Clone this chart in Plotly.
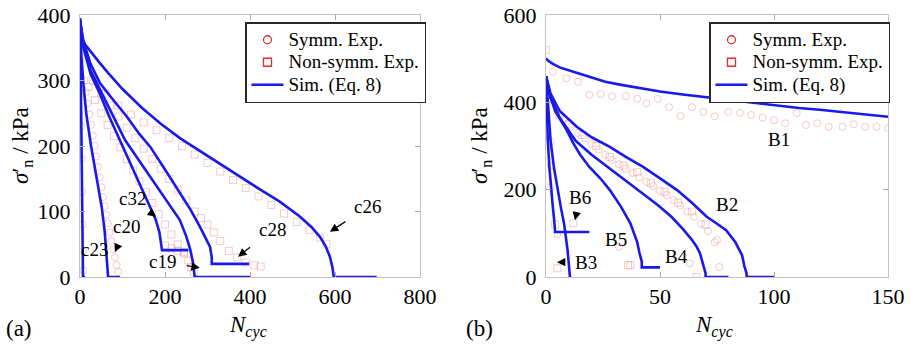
import plotly.graph_objects as go

# ---------------- Panel (a) simulated curves ----------------
c23_N = [0, 1, 2, 3, 4, 5, 6, 7, 7, 12]
c23_s = [395, 360, 300, 240, 180, 120, 60, 15, 0, 0]
c20_N = [0, 3, 8, 15, 26, 38, 51, 58, 63, 65, 66, 94]
c20_s = [392, 340, 295, 248, 200, 155, 107, 70, 35, 10, 0, 0]
c32_N = [0, 8, 25, 45, 70, 94, 120, 146, 165, 178, 187, 192, 193, 193, 255]
c32_s = [392, 350, 310, 282, 243, 208, 170, 133, 107, 88, 68, 50, 41, 41, 41]
c19_N = [0, 8, 25, 50, 78, 106, 122, 141, 165, 188, 212, 235, 250, 259, 265, 269, 270, 400]
c19_s = [392, 355, 315, 282, 245, 209, 194, 176, 155, 132, 110, 87, 62, 43, 25, 8, 0, 0]
c28_N = [0, 8, 25, 47, 75, 110, 140, 165, 200, 235, 260, 282, 296, 306, 310, 310, 398]
c28_s = [392, 360, 325, 296, 273, 245, 218, 199, 164, 128, 103, 77, 60, 46, 30, 20, 20]
c26_N = [0, 4, 12, 27, 45, 67, 100, 146, 190, 235, 266, 300, 340, 380, 430, 470, 494, 518, 545, 565, 578, 588, 594, 597, 597, 698]
c26_s = [395, 366, 355, 342, 328, 311, 287, 258, 234, 212, 199, 185, 168, 151, 131, 115, 104, 92, 76, 61, 47, 31, 15, 3, 0, 0]

# ---------------- Panel (a) experimental points ----------------
a_circ_N = [1, 2, 3, 4, 5, 6, 7, 8,
            10, 14, 18, 22, 26, 30, 34, 38, 42, 46, 50, 54, 58, 62, 66, 70, 74, 78, 82, 86, 90]
a_circ_s = [330, 280, 230, 180, 130, 80, 40, 10,
            300, 282, 265, 248, 232, 216, 200, 184, 168, 152, 137, 122, 108, 95, 82, 68, 55, 42, 30, 18, 8]
a_sq_N = [20, 35, 50, 65, 80, 95, 110, 125, 140, 155, 170, 185, 200, 215, 230, 245, 255, 262, 268,
          200, 215, 230, 245,
          30, 50, 70, 90, 110, 130, 150, 170, 190, 210, 230, 250, 270, 285, 300, 315, 330, 350, 370, 390, 410, 425,
          60, 90, 120, 150, 180, 210, 240, 270, 300, 330, 360, 390, 420, 450, 480, 510, 540, 565, 580]
a_sq_s = [290, 270, 250, 232, 215, 198, 180, 163, 146, 130, 113, 96, 80, 65, 50, 38, 25, 15, 8,
          48, 44, 40, 36,
          300, 280, 262, 245, 228, 212, 196, 180, 165, 150, 133, 117, 100, 90, 80, 68, 55, 40, 30, 22, 18, 16,
          280, 262, 248, 236, 224, 212, 200, 187, 174, 161, 148, 136, 123, 110, 97, 84, 72, 60, 50]

# ---------------- Panel (b) simulated curves ----------------
B1_N = [0, 1, 3, 6, 12, 19, 26, 33, 41, 50, 60, 68, 76, 86, 95, 103, 111, 120, 130, 140, 150]
B1_s = [501, 495, 488, 480, 470, 458, 447, 440, 433, 425, 418, 413, 408, 402, 396, 391, 387, 383, 378, 373, 367]
B2_N = [0, 2, 6, 13.5, 20, 28, 35, 42.6, 50, 57.5, 64, 70.5, 75, 79, 83, 86, 87, 88, 88, 100]
B2_s = [460, 420, 380, 344, 320, 298, 275, 252, 226, 199, 170, 138, 122, 107, 80, 50, 25, 8, 0, 0]
B4_N = [0, 2, 6, 13, 20, 28, 35, 42, 49, 55, 60, 64, 66, 67.5, 69, 70, 70, 80]
B4_s = [460, 410, 365, 312, 280, 248, 222, 194, 165, 138, 110, 85, 70, 55, 30, 8, 0, 0]
B5_N = [0, 1.5, 4, 9, 12, 15, 19, 24, 28, 33, 37, 40, 41, 42, 42, 50]
B5_s = [460, 420, 380, 337, 306, 280, 252, 225, 199, 160, 123, 80, 55, 35, 22, 22]
B3_N = [0, 1, 2, 3.5, 5, 6.5, 8, 9.5, 10.5]
B3_s = [460, 380, 313, 250, 200, 160, 120, 60, 0]
B6_N = [0, 0.3, 0.8, 1.5, 2.2, 3, 3.6, 4, 4, 19]
B6_s = [460, 380, 313, 250, 200, 160, 130, 103, 103, 103]

# ---------------- Panel (b) experimental points ----------------
b_circ_N = [3, 9, 14, 19, 24, 29, 35, 40, 44, 49, 54, 59, 64, 69, 74, 80, 85, 90, 95, 100,
            105, 110, 114, 119, 124, 130, 135, 140, 145, 150,
            5, 8, 11, 14, 17, 20, 23, 26, 29, 32, 35, 38, 41, 44, 47, 50, 53, 56, 59, 62, 65, 68, 71, 74,
            2, 2, 2, 5, 32, 63, 75, 76]
b_circ_s = [470, 455, 447, 417, 419, 414, 414, 408, 398, 408, 389, 369, 389, 378, 368, 378, 376, 371, 365, 359,
            352, 375, 348, 352, 344, 344, 350, 344, 344, 341,
            380, 362, 345, 330, 318, 305, 292, 280, 268, 258, 248, 238, 228, 218, 208, 198, 188, 176, 164, 150, 138, 122, 105, 80,
            310, 255, 205, 98, 69, 31, 85, 23]
b_sq_N = [0, 6, 10, 16, 22, 28, 34, 40, 46, 52, 58, 64, 70,
          4, 12, 5, 36, 37, 66]
b_sq_s = [520, 370, 350, 325, 300, 275, 255, 240, 215, 195, 170, 150, 120,
          120, 123, 20, 27, 27, 0]

legend_names = ["Symm. Exp.", "Non-symm. Exp.", "Sim. (Eq. 8)"]

# ---------------- styles ----------------
BLUE = "rgb(25,25,235)"
EXP = "rgba(232,115,115,0.38)"
LEG_RED = "rgb(215,50,50)"
SERIF = "Times New Roman"

W, H = 911, 345
ML, MR, MT, MB = 80, 23, 15, 68
PW, PH = W - ML - MR, H - MT - MB


def px(x):
    return (x - ML) / PW


def py(y):
    return (H - MB - y) / PH


fig = go.Figure()


def sim(xs, ys, xa, ya):
    fig.add_trace(go.Scatter(x=xs, y=ys, mode="lines", line=dict(color=BLUE, width=2.6),
                             xaxis=xa, yaxis=ya, showlegend=False, hoverinfo="skip"))


def exp(xs, ys, sym, xa, ya):
    fig.add_trace(go.Scatter(x=xs, y=ys, mode="markers",
                             marker=dict(symbol=sym, size=7, color=EXP, line=dict(color=EXP, width=1)),
                             xaxis=xa, yaxis=ya, showlegend=False, hoverinfo="skip"))


exp(a_circ_N, a_circ_s, "circle-open", "x", "y")
exp(a_sq_N, a_sq_s, "square-open", "x", "y")
exp(b_circ_N, b_circ_s, "circle-open", "x2", "y2")
exp(b_sq_N, b_sq_s, "square-open", "x2", "y2")

for xs, ys in [(c23_N, c23_s), (c20_N, c20_s), (c32_N, c32_s), (c19_N, c19_s), (c28_N, c28_s), (c26_N, c26_s)]:
    sim(xs, ys, "x", "y")
for xs, ys in [(B1_N, B1_s), (B2_N, B2_s), (B4_N, B4_s), (B5_N, B5_s), (B3_N, B3_s), (B6_N, B6_s)]:
    sim(xs, ys, "x2", "y2")


def lname(s):
    return "<span style='font-size:19px'>" + s + "</span>"


for leg, xa, ya in [("legend", "x", "y"), ("legend2", "x2", "y2")]:
    fig.add_trace(go.Scatter(x=[None], y=[None], mode="markers", name=lname(legend_names[0]),
                             marker=dict(symbol="circle-open", size=8, color=LEG_RED, line=dict(width=1.3)),
                             legend=leg, xaxis=xa, yaxis=ya))
    fig.add_trace(go.Scatter(x=[None], y=[None], mode="markers", name=lname(legend_names[1]),
                             marker=dict(symbol="square-open", size=8, color=LEG_RED, line=dict(width=1.3)),
                             legend=leg, xaxis=xa, yaxis=ya))
    fig.add_trace(go.Scatter(x=[None], y=[None], mode="lines", name=lname(legend_names[2]),
                             line=dict(color=BLUE, width=2.6), legend=leg, xaxis=xa, yaxis=ya))

axcommon = dict(showline=True, mirror="ticks", linecolor="rgb(195,195,195)", linewidth=1,
                ticks="inside", ticklen=5, tickcolor="rgb(170,170,170)", showgrid=False, zeroline=False,
                automargin=False, tickfont=dict(family=SERIF, size=22, color="black"))

leg_style = dict(bgcolor="white", bordercolor="rgb(40,40,40)", borderwidth=1.5,
                 font=dict(family=SERIF, size=15, color="black"),
                 xanchor="left", yanchor="top", tracegroupgap=0, itemwidth=32)

fig.update_layout(
    width=W, height=H, margin=dict(l=ML, r=MR, t=MT, b=MB, autoexpand=False),
    font=dict(family=SERIF, color="black"),
    paper_bgcolor="white", plot_bgcolor="white", showlegend=True,
    xaxis=dict(domain=[0, px(420)], range=[0, 800], tickvals=[0, 200, 400, 600, 800], anchor="y", **axcommon),
    yaxis=dict(domain=[0, 1], range=[0, 400], tickvals=[0, 100, 200, 300, 400],
               anchor="x", ticklabelstandoff=4, **axcommon),
    xaxis2=dict(domain=[px(546), 1], range=[0, 150], tickvals=[0, 50, 100, 150], anchor="y2", **axcommon),
    yaxis2=dict(domain=[0, 1], range=[0, 600], tickvals=[0, 200, 400, 600],
                anchor="x2", ticklabelstandoff=4, **axcommon),
    legend=dict(x=px(245), y=py(22), **leg_style),
    legend2=dict(x=px(709), y=py(22), **leg_style),
)

ann_font = dict(family=SERIF, size=19, color="black")


def label(text, hx, hy, tx, ty, xa, ya):
    fig.add_annotation(x=hx, y=hy, xref=xa, yref=ya, text=text, showarrow=True,
                       arrowhead=2, arrowsize=1.4, arrowwidth=1.2, arrowcolor="black",
                       ax=tx, ay=ty, font=ann_font, standoff=0, startstandoff=9)


label("c23", 7, 72, 12, 20, "x", "y")
label("c20", 82, 38, 12, -26, "x", "y")
label("c32", 179, 92, -24, -18, "x", "y")
label("c19", 282, 14, -37, -6, "x", "y")
label("c28", 372, 31, 34, -27, "x", "y")
label("c26", 588, 69, 38, -25, "x", "y")
label("B1", 111, 344, -20, 13, "x2", "y2")
label("B2", 70.5, 135, 20, -14, "x2", "y2")
label("B6", 12.7, 130, 5, -23, "x2", "y2")
label("B5", 40, 66, -21, -9, "x2", "y2")
label("B4", 65.8, 64, -20, 7, "x2", "y2")
label("B3", 4.8, 34, 29, 0, "x2", "y2")

title_font = dict(family=SERIF, size=23, color="black")


def ptext(text, x, y, angle=0):
    fig.add_annotation(x=px(x), y=py(y), xref="paper", yref="paper", showarrow=False,
                       xanchor="center", yanchor="middle", text=text, textangle=angle, font=title_font)


for xc in [22, 481]:
    ptext("<i>σ</i>′<sub>n</sub> / kPa", xc, 146, -90)
for xc in [248, 714]:
    ptext("<i>N<sub>cyc</sub></i>", xc, 326)
ptext("(a)", 19, 328)
ptext("(b)", 479, 328)

fig.write_html("out.html", config={"displayModeBar": False},
               post_script="document.body.style.margin='0px';document.body.style.padding='0px';")
